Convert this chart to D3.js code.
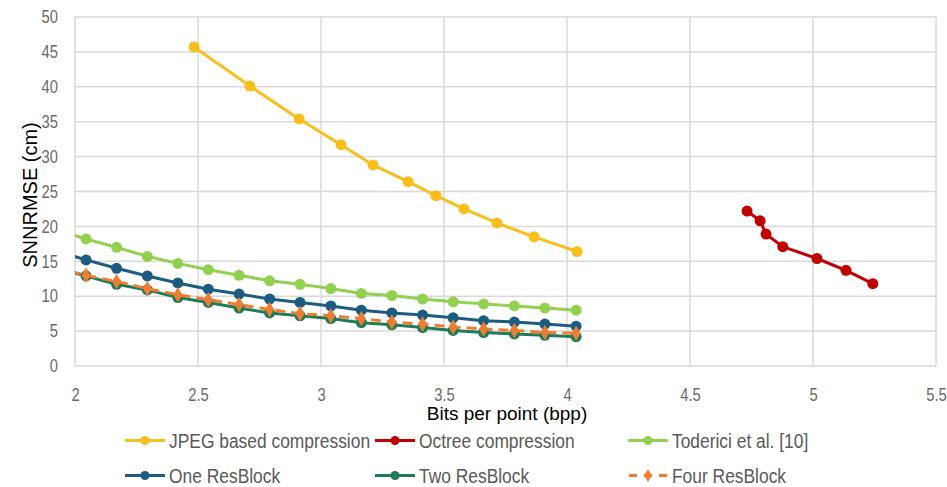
<!DOCTYPE html>
<html><head><meta charset="utf-8">
<script src="https://cdn.jsdelivr.net/npm/d3@7"></script>
<style>
body{margin:0;background:#fff;}
svg{display:block;}
</style></head>
<body>
<svg id="chart" width="947" height="487"></svg>
<script>
// ---- data ----
const xTicks = [2, 2.5, 3, 3.5, 4, 4.5, 5, 5.5];
const xTickLabels = ["2", "2.5", "3", "3.5", "4", "4.5", "5", "5.5"];
const yTicks = [0, 5, 10, 15, 20, 25, 30, 35, 40, 45, 50];

const jpegX = [2.484, 2.711, 2.911, 3.081, 3.211, 3.354, 3.467, 3.581, 3.715, 3.866, 4.041];
const jpegY = [45.7, 40.1, 35.4, 31.7, 28.8, 26.4, 24.4, 22.5, 20.5, 18.5, 16.4];

const octreeX = [4.732, 4.785, 4.809, 4.877, 5.016, 5.134, 5.243];
const octreeY = [22.2, 20.8, 18.9, 17.1, 15.4, 13.7, 11.8];

// shared rate points for the learned codecs (first one lies left of the axis and is clipped)
const resX = [1.921, 2.045, 2.169, 2.294, 2.418, 2.542, 2.667, 2.791, 2.915, 3.04, 3.164, 3.288, 3.413, 3.537, 3.661, 3.786, 3.91, 4.037];
const todericiY = [19.5, 18.2, 17.0, 15.7, 14.7, 13.8, 13.0, 12.2, 11.7, 11.1, 10.4, 10.1, 9.6, 9.2, 8.9, 8.6, 8.3, 8.0];
const oneY      = [16.5, 15.2, 14.0, 12.9, 11.9, 11.0, 10.3, 9.6, 9.1, 8.6, 8.0, 7.6, 7.3, 6.9, 6.5, 6.3, 6.0, 5.7];
const twoY      = [14.0, 12.9, 11.7, 10.9, 9.8, 9.1, 8.3, 7.6, 7.2, 6.8, 6.2, 5.9, 5.5, 5.1, 4.8, 4.6, 4.4, 4.2];
const fourY     = [14.1, 13.0, 12.1, 11.1, 10.2, 9.5, 8.8, 8.1, 7.5, 7.2, 6.8, 6.3, 6.0, 5.6, 5.3, 5.1, 4.8, 4.7];

const seriesNames = ["JPEG based compression", "Octree compression", "Toderici et al. [10]", "One ResBlock", "Two ResBlock", "Four ResBlock"];
const seriesColors = ["#F7BE1C", "#C00000", "#92D050", "#1B5C80", "#1E7B58", "#ED7D31"];

const series = [
  {name: seriesNames[0], color: seriesColors[0], xs: jpegX, ys: jpegY, marker: "circle", dash: null},
  {name: seriesNames[1], color: seriesColors[1], xs: octreeX, ys: octreeY, marker: "circle", dash: null},
  {name: seriesNames[2], color: seriesColors[2], xs: resX, ys: todericiY, marker: "circle", dash: null},
  {name: seriesNames[3], color: seriesColors[3], xs: resX, ys: oneY, marker: "circle", dash: null},
  {name: seriesNames[4], color: seriesColors[4], xs: resX, ys: twoY, marker: "circle", dash: null},
  {name: seriesNames[5], color: seriesColors[5], xs: resX, ys: fourY, marker: "diamond", dash: "10,6"}
];

// ---- layout ----
const svg = d3.select("#chart");
const pLeft = 75, pRight = 936, pTop = 17, pBottom = 366;
const x = d3.scaleLinear().domain([2, 5.5]).range([pLeft, pRight]);
const y = d3.scaleLinear().domain([0, 50]).range([pBottom, pTop]);

const tickFont = "'Liberation Sans', Arial, sans-serif";
const textFont = "'Liberation Sans', Arial, sans-serif";

// gridlines
const grid = svg.append("g");
grid.selectAll("line.h").data(yTicks).join("line")
  .attr("x1", pLeft).attr("x2", pRight)
  .attr("y1", d => y(d)).attr("y2", d => y(d))
  .attr("stroke", "#d9d9d9").attr("stroke-width", 1.5);
grid.selectAll("line.v").data(xTicks).join("line")
  .attr("y1", pTop).attr("y2", pBottom)
  .attr("x1", d => x(d)).attr("x2", d => x(d))
  .attr("stroke", "#d9d9d9").attr("stroke-width", 1.5);

// axes (labels only)
const yAxis = d3.axisLeft(y).tickValues(yTicks).tickSize(0).tickPadding(0);
const gy = svg.append("g").attr("transform", `translate(${pLeft - 17},0)`).call(yAxis);
gy.select(".domain").remove();
gy.selectAll("text").attr("font-family", tickFont).attr("font-size", 18).attr("fill", "#6a6a6a")
  .attr("transform", "scale(0.82,1)");

const xAxis = d3.axisBottom(x).tickValues(xTicks).tickFormat((d, i) => xTickLabels[i]).tickSize(0).tickPadding(0);
const gx = svg.append("g").attr("transform", `translate(0,${pBottom + 22})`).call(xAxis);
gx.select(".domain").remove();
gx.selectAll("text").attr("font-family", tickFont).attr("font-size", 18).attr("fill", "#6a6a6a")
  .attr("transform", "scale(0.82,1)");

// axis titles
svg.append("text").attr("x", 507).attr("y", 420).attr("text-anchor", "middle")
  .attr("font-family", textFont).attr("font-size", 19).attr("fill", "#000")
  .text("Bits per point (bpp)");
svg.append("text").attr("transform", `translate(37,195) rotate(-90)`)
  .attr("text-anchor", "middle")
  .attr("font-family", textFont).attr("font-size", 20).attr("fill", "#000")
  .text("SNNRMSE (cm)");

// clip
svg.append("clipPath").attr("id", "plotclip").append("rect")
  .attr("x", pLeft).attr("y", pTop - 10).attr("width", pRight - pLeft + 10).attr("height", pBottom - pTop + 20);

const line = d3.line().x(d => x(d[0])).y(d => y(d[1]));
const plot = svg.append("g").attr("clip-path", "url(#plotclip)");
const diamond = d3.symbol().type(d3.symbolDiamond).size(70);

series.forEach(s => {
  const pts = s.xs.map((v, i) => [v, s.ys[i]]);
  plot.append("path").datum(pts).attr("d", line)
    .attr("fill", "none").attr("stroke", s.color).attr("stroke-width", 3)
    .attr("stroke-dasharray", s.dash);
  if (s.marker === "circle") {
    plot.selectAll(null).data(pts).join("circle")
      .attr("cx", d => x(d[0])).attr("cy", d => y(d[1])).attr("r", 5.5)
      .attr("fill", s.color);
  } else {
    plot.selectAll(null).data(pts).join("path")
      .attr("d", diamond)
      .attr("transform", d => `translate(${x(d[0])},${y(d[1])})`)
      .attr("fill", s.color);
  }
});

// legend
const legCols = [125, 375, 628];
const legRows = [440.5, 475.5];
const leg = svg.append("g");
series.forEach((s, i) => {
  const lx = legCols[i % 3], ly = legRows[Math.floor(i / 3)];
  const g = leg.append("g");
  g.append("line").attr("x1", lx).attr("x2", lx + 40).attr("y1", ly).attr("y2", ly)
    .attr("stroke", s.color).attr("stroke-width", 3).attr("stroke-dasharray", s.dash ? "8,7" : null)
    .attr("stroke-dashoffset", s.dash ? -1 : null);
  if (s.marker === "circle") {
    g.append("circle").attr("cx", lx + 20).attr("cy", ly).attr("r", 4.5).attr("fill", s.color);
  } else {
    g.append("path").attr("d", d3.symbol().type(d3.symbolDiamond).size(50))
      .attr("transform", `translate(${lx + 20},${ly})`).attr("fill", s.color);
  }
  g.append("text").attr("transform", `translate(${lx + 44},${ly}) scale(0.87,1)`).attr("dy", "0.36em")
    .attr("font-family", textFont).attr("font-size", 20).attr("fill", "#595959")
    .text(s.name);
});
</script>
</body></html>
